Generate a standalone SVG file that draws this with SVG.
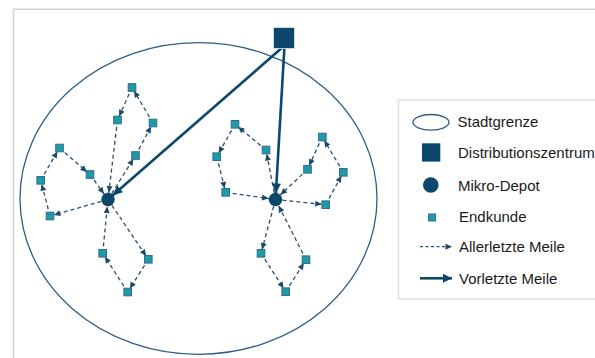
<svg xmlns="http://www.w3.org/2000/svg" width="595" height="358" viewBox="0 0 595 358">
<style>
.frame{fill:none;stroke:#d3d3d3;stroke-width:1.5}
.city{fill:none;stroke:#2f5d85;stroke-width:1.3}
.cust{fill:#1b9ca6;stroke:#356a8c;stroke-width:1}
.dark{fill:#0c486b}
.dash{fill:none;stroke:#29506f;stroke-width:1.3;stroke-dasharray:4 3}
.solid{fill:none;stroke:#0c486b;stroke-width:2.6}
.lbl{font-family:"Liberation Sans",Arial,sans-serif;font-size:15px;fill:#1a1a1a}
</style>
<defs>
<marker id="ac" markerUnits="userSpaceOnUse" markerWidth="7" markerHeight="6" refX="10.5" refY="3" orient="auto" overflow="visible"><path d="M0,0 L6.5,3 L0,6 z" fill="#1d4a6b"/></marker>
<marker id="ad" markerUnits="userSpaceOnUse" markerWidth="7" markerHeight="6" refX="13.5" refY="3" orient="auto" overflow="visible"><path d="M0,0 L6.5,3 L0,6 z" fill="#1d4a6b"/></marker>
<marker id="al" markerUnits="userSpaceOnUse" markerWidth="7" markerHeight="6" refX="6.5" refY="3" orient="auto" overflow="visible"><path d="M0,0 L6.5,3 L0,6 z" fill="#1d4a6b"/></marker>
<marker id="as" markerUnits="userSpaceOnUse" markerWidth="10" markerHeight="9" refX="16" refY="4.5" orient="auto" overflow="visible"><path d="M0,0 L10,4.5 L0,9 z" fill="#0c486b"/></marker>
<marker id="asl" markerUnits="userSpaceOnUse" markerWidth="10" markerHeight="9" refX="9" refY="4.5" orient="auto" overflow="visible"><path d="M0,0 L9,4.5 L0,9 z" fill="#0c486b"/></marker>
</defs>
<rect width="595" height="358" fill="#ffffff"/>
<path class="frame" d="M13.5,358 V9.2 H595"/>
<g id="stadtgrenze"><ellipse class="city" cx="198.5" cy="198.5" rx="178.5" ry="155.8"/></g>
<g id="connectors">
<g class="dash">
<line x1="108" y1="199.5" x2="135.5" y2="155.5" marker-end="url(#ac)"/>
<line x1="135.5" y1="155.5" x2="153" y2="123" marker-end="url(#ac)"/>
<line x1="153" y1="123" x2="132" y2="87.5" marker-end="url(#ac)"/>
<line x1="132" y1="87.5" x2="117.5" y2="120" marker-end="url(#ac)"/>
<line x1="117.5" y1="120" x2="108" y2="199.5" marker-end="url(#ad)"/>
<line x1="108" y1="199.5" x2="50" y2="216" marker-end="url(#ac)"/>
<line x1="50" y1="216" x2="40.7" y2="180.3" marker-end="url(#ac)"/>
<line x1="40.7" y1="180.3" x2="59.5" y2="148" marker-end="url(#ac)"/>
<line x1="59.5" y1="148" x2="90" y2="174.5" marker-end="url(#ac)"/>
<line x1="90" y1="174.5" x2="108" y2="199.5" marker-end="url(#ad)"/>
<line x1="108" y1="199.5" x2="148.3" y2="259.3" marker-end="url(#ac)"/>
<line x1="148.3" y1="259.3" x2="127.7" y2="292" marker-end="url(#ac)"/>
<line x1="127.7" y1="292" x2="102.7" y2="253.3" marker-end="url(#ac)"/>
<line x1="102.7" y1="253.3" x2="108" y2="199.5" marker-end="url(#ad)"/>
<line x1="275.5" y1="199.5" x2="266" y2="150" marker-end="url(#ac)"/>
<line x1="266" y1="150" x2="235" y2="124.3" marker-end="url(#ac)"/>
<line x1="235" y1="124.3" x2="216.7" y2="156.7" marker-end="url(#ac)"/>
<line x1="216.7" y1="156.7" x2="225.7" y2="192.3" marker-end="url(#ac)"/>
<line x1="225.7" y1="192.3" x2="275.5" y2="199.5" marker-end="url(#ad)"/>
<line x1="275.5" y1="199.5" x2="325.7" y2="204.7" marker-end="url(#ac)"/>
<line x1="325.7" y1="204.7" x2="343.3" y2="172.3" marker-end="url(#ac)"/>
<line x1="343.3" y1="172.3" x2="322.3" y2="137" marker-end="url(#ac)"/>
<line x1="322.3" y1="137" x2="307.5" y2="169.3" marker-end="url(#ac)"/>
<line x1="307.5" y1="169.3" x2="275.5" y2="199.5" marker-end="url(#ad)"/>
<line x1="275.5" y1="199.5" x2="261" y2="253.3" marker-end="url(#ac)"/>
<line x1="261" y1="253.3" x2="285.7" y2="291.7" marker-end="url(#ac)"/>
<line x1="285.7" y1="291.7" x2="306" y2="259.7" marker-end="url(#ac)"/>
<line x1="306" y1="259.7" x2="275.5" y2="199.5" marker-end="url(#ad)"/>
</g>
<g class="solid">
<line x1="284" y1="46" x2="108" y2="199.5" marker-end="url(#as)"/>
<line x1="284.5" y1="46" x2="275.5" y2="199.5" marker-end="url(#as)"/>
</g>
</g>
<g id="distributionszentrum"><rect class="dark" x="273.5" y="27.5" width="21" height="21" stroke="#dfe8ef" stroke-width="0.8"/></g>
<g id="depot-links"><circle class="dark" cx="108" cy="199.5" r="6.7"/></g>
<g id="depot-rechts"><circle class="dark" cx="275.5" cy="199.5" r="6.7"/></g>
<g id="kunden">
<rect id="A1" class="cust" x="128.2" y="83.7" width="7.6" height="7.6"/>
<rect id="A2" class="cust" x="113.7" y="116.2" width="7.6" height="7.6"/>
<rect id="A3" class="cust" x="149.2" y="119.2" width="7.6" height="7.6"/>
<rect id="A4" class="cust" x="131.7" y="151.7" width="7.6" height="7.6"/>
<rect id="B1" class="cust" x="55.7" y="144.2" width="7.6" height="7.6"/>
<rect id="B2" class="cust" x="36.9" y="176.5" width="7.6" height="7.6"/>
<rect id="B3" class="cust" x="86.2" y="170.7" width="7.6" height="7.6"/>
<rect id="B4" class="cust" x="46.2" y="212.2" width="7.6" height="7.6"/>
<rect id="C1" class="cust" x="98.9" y="249.5" width="7.6" height="7.6"/>
<rect id="C2" class="cust" x="144.5" y="255.5" width="7.6" height="7.6"/>
<rect id="C3" class="cust" x="123.9" y="288.2" width="7.6" height="7.6"/>
<rect id="D1" class="cust" x="231.2" y="120.5" width="7.6" height="7.6"/>
<rect id="D2" class="cust" x="212.9" y="152.9" width="7.6" height="7.6"/>
<rect id="D3" class="cust" x="262.2" y="146.2" width="7.6" height="7.6"/>
<rect id="D4" class="cust" x="221.9" y="188.5" width="7.6" height="7.6"/>
<rect id="E1" class="cust" x="318.5" y="133.2" width="7.6" height="7.6"/>
<rect id="E2" class="cust" x="303.7" y="165.5" width="7.6" height="7.6"/>
<rect id="E3" class="cust" x="339.5" y="168.5" width="7.6" height="7.6"/>
<rect id="E4" class="cust" x="321.9" y="200.9" width="7.6" height="7.6"/>
<rect id="F1" class="cust" x="257.2" y="249.5" width="7.6" height="7.6"/>
<rect id="F2" class="cust" x="302.2" y="255.9" width="7.6" height="7.6"/>
<rect id="F3" class="cust" x="281.9" y="287.9" width="7.6" height="7.6"/>
</g>
<g id="legende">
<rect x="398.5" y="100" width="210" height="199" fill="#ffffff" stroke="#e0e0e0" stroke-width="1.5"/>
<ellipse class="city" cx="431" cy="122.3" rx="18" ry="7.8"/>
<text class="lbl" x="457.5" y="127">Stadtgrenze</text>
<rect class="dark" x="422" y="143.3" width="18.3" height="18.3"/>
<text class="lbl" x="458" y="157.5">Distributionszentrum</text>
<circle class="dark" cx="430.8" cy="185" r="7.8"/>
<text class="lbl" x="458" y="190.5">Mikro-Depot</text>
<rect class="cust" x="428.6" y="214" width="7" height="7"/>
<text class="lbl" x="459" y="222">Endkunde</text>
<line x1="420" y1="246.7" x2="452" y2="246.7" stroke="#29506f" stroke-width="1.2" stroke-dasharray="3 2.5" marker-end="url(#al)"/>
<text class="lbl" x="459" y="252">Allerletzte Meile</text>
<line x1="420" y1="278.3" x2="452" y2="278.3" class="solid" marker-end="url(#asl)"/>
<text class="lbl" x="459" y="283.5">Vorletzte Meile</text>
</g>
</svg>
